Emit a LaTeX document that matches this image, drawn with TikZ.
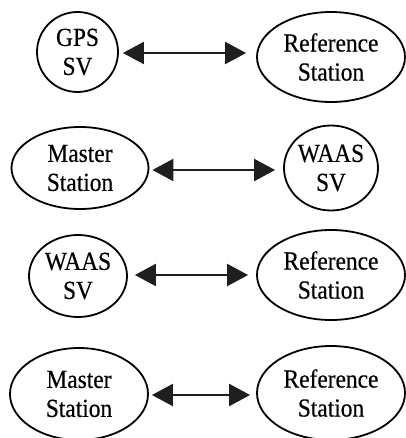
\documentclass[tikz,border=0pt]{standalone}
\usepackage{fontspec}
\setmainfont{Liberation Serif}
\newfontfamily\nodefont[FakeStretch=0.9,FakeBold=0.4]{Liberation Serif}
\usetikzlibrary{shapes.geometric,arrows.meta}
\begin{document}
\begin{tikzpicture}[x=1pt,y=-1pt,
  oval/.style={ellipse,draw,line width=1.8pt,inner sep=0pt,align=center,
    font=\nodefont\fontsize{26}{29}\selectfont},
  link/.style={line width=2.2pt,color=black!88,
    {Triangle[length=21pt,width=22pt]}-{Triangle[length=21pt,width=22pt]}}]
\useasboundingbox (0,0) rectangle (405,438);
% row 1
\node[oval,minimum width=81pt,minimum height=80pt] (gps) at (77.5,52) {GPS\\SV};
\node[oval,minimum width=148pt,minimum height=90pt] (ref1) at (331,57) {Reference\\Station};
% row 2
\node[oval,minimum width=137pt,minimum height=82pt] (mst1) at (80,168) {Master\\Station};
\node[oval,minimum width=94pt,minimum height=85pt] (waas1) at (331,168) {WAAS\\SV};
% row 3
\node[oval,minimum width=98pt,minimum height=82pt] (waas2) at (78,276) {WAAS\\SV};
\node[oval,minimum width=148pt,minimum height=90pt] (ref2) at (331,275) {Reference\\Station};
% row 4
\node[oval,minimum width=138pt,minimum height=92pt] (mst2) at (79,394) {Master\\Station};
\node[oval,minimum width=148pt,minimum height=94pt] (ref3) at (331,393) {Reference\\Station};
% arrows
\draw[link,shorten <=4pt,shorten >=10pt] ([yshift=-1pt]gps.east) -- ([yshift=-1pt]gps.east -| ref1.west);
\draw[link,shorten <=3pt,shorten >=8pt] ([yshift=-2pt]mst1.east) -- ([yshift=-2pt]mst1.east -| waas1.west);
\draw[link,shorten <=7pt,shorten >=8pt] ([yshift=1pt]waas2.east) -- ([yshift=1pt]waas2.east -| ref2.west);
\draw[link,shorten <=3pt,shorten >=6pt] ([yshift=-1pt]mst2.east) -- ([yshift=-1pt]mst2.east -| ref3.west);
\end{tikzpicture}
\end{document}
